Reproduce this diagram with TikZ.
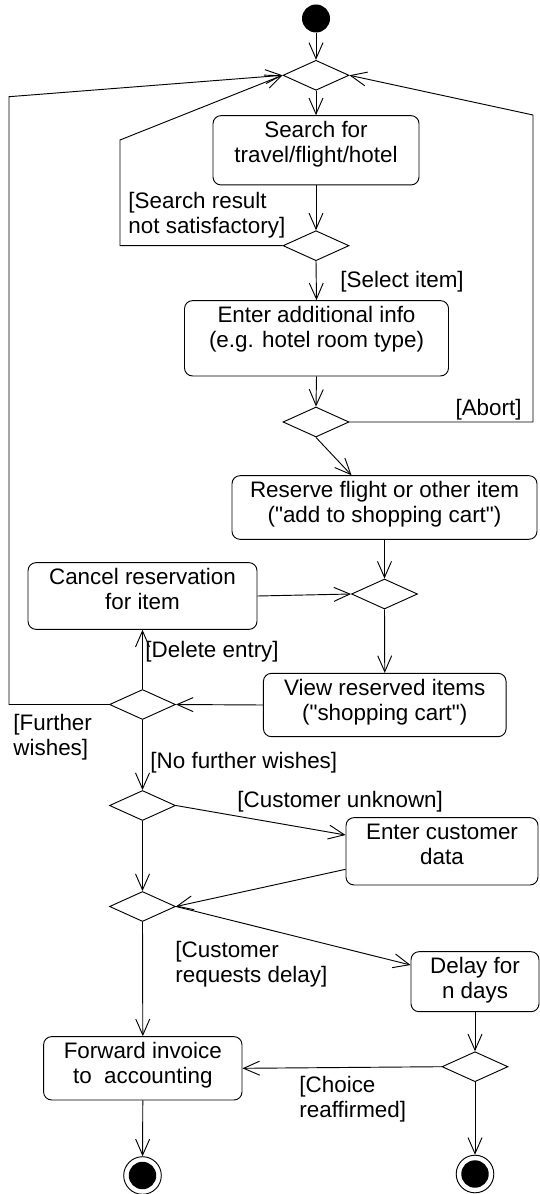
\documentclass[tikz,border=0pt]{standalone}
\usepackage{fontspec}
\setmainfont{Liberation Sans}
\usetikzlibrary{shapes.geometric,arrows.meta,calc}
\begin{document}
\begin{tikzpicture}[x=0.75pt,y=-0.75pt,
  font=\fontsize{16.8pt}{18.75pt}\selectfont,
  line width=0.7pt,
  act/.style={draw, rounded corners=6pt, align=center, inner sep=0pt},
  dec/.style={draw, diamond, inner sep=0pt, minimum width=49.5pt, minimum height=22.5pt},
  startnode/.style={circle, fill=black, minimum size=21pt, inner sep=0pt},
  finalnode/.style={circle, draw, minimum size=28.2pt, inner sep=0pt,
    path picture={\fill[black] (path picture bounding box.center) circle (10.3pt);}},
  arr/.style={-{Straight Barb[length=12pt,width=10.5pt]}},
  lbl/.style={inner sep=0pt, align=left}]
\useasboundingbox (0,0) rectangle (539,1194);

% nodes
\node[startnode] (s) at (316,18.5) {};
\node[dec] (d1) at (316,75.3) {};
\node[act, minimum width=154.5pt, minimum height=52pt, text depth=12.5pt] (search) at (316,150.3) {Search for\\travel/flight/hotel};
\node[dec] (d2) at (316,245.7) {};
\node[act, minimum width=198pt, minimum height=56.5pt, text depth=17pt] (enter) at (316.5,338.3) {Enter additional info\\(e.g. hotel room type)};
\node[dec] (d3) at (316,422) {};
\node[act, minimum width=228.75pt, minimum height=47.7pt, text depth=8pt] (res) at (384.5,507.5) {Reserve flight or other item\\(\textquotedbl add to shopping cart\textquotedbl)};
\node[dec] (d4) at (384.5,594) {};
\node[act, minimum width=171.75pt, minimum height=50pt, text depth=11pt] (cancel) at (142.5,596) {Cancel reservation\\for item};
\node[act, minimum width=182pt, minimum height=47.5pt, text depth=8pt] (view) at (384.75,705) {View reserved items\\(\textquotedbl shopping cart\textquotedbl)};
\node[dec] (d5) at (142.5,704.5) {};
\node[dec] (d6) at (142.5,805.5) {};
\node[act, minimum width=144pt, minimum height=50.5pt, text depth=11pt] (cust) at (442,851.3) {Enter customer\\data};
\node[dec] (d7) at (142.5,906.5) {};
\node[act, minimum width=96pt, minimum height=45pt, text depth=5pt] (delay) at (475,981.7) {Delay for\\n days};
\node[dec] (d8) at (475,1066.7) {};
\node[act, minimum width=148.8pt, minimum height=47.5pt, text depth=8pt] (fwd) at (142.8,1068.3) {Forward invoice\\to~~accounting};
\node[finalnode] (e1) at (142.5,1175.5) {};
\node[finalnode] (e2) at (475,1174) {};

% bend points
\coordinate (lp1) at (120,140);
\coordinate (lp2) at (9,96.7);
\coordinate (rp) at (533,115);

% connectors
\draw[arr] (s) -- (d1.north);
\draw[arr] (d1.south) -- (search.north);
\draw[arr] (search.south) -- (d2.north);
\draw[arr] (d2.south) -- (enter.north);
\draw[arr] (d2.west) -| (lp1) -- (d1.west);
\draw[arr] (enter.south) -- (d3.north);
\draw[arr] (d3.east) -| (rp) -- (d1.east);
\draw[arr] (d3.south) -- ($(res.north west)+(120,0)$);
\draw[arr] (res.south) -- (d4.north);
\draw[arr] (cancel.east) -- (d4.west);
\draw[arr] (d4.south) -- (view.north);
\draw[arr] (view.west) -- (d5.east);
\draw[arr] (d5.north) -- (cancel.south);
\draw[arr] (d5.west) -| (lp2) -- (d1.west);
\draw[arr] (d5.south) -- (d6.north);
\draw[arr] (d6.east) -- ($(cust.west)+(0,-16.3)$);
\draw[arr] (d6.south) -- (d7.north);
\draw[arr] ($(cust.west)+(0,18)$) -- (d7.east);
\draw[arr] (d7.east) -- ($(delay.west)+(0,-16.7)$);
\draw[arr] (d7.south) -- (fwd.north);
\draw[arr] (delay.south) -- (d8.north);
\draw[arr] (d8.west) -- (fwd.east);
\draw[arr] (fwd.south) -- (e1);
\draw[arr] (d8.south) -- (e2);

% guard labels
\node[lbl, anchor=west] (l1) at (128,215.5) {[Search result\\not satisfactory]};
\node[lbl, anchor=west] (l2) at (340,281.7) {[Select item]};
\node[lbl, anchor=east] (l3) at (522,410) {[Abort]};
\node[lbl, anchor=west] (l4) at (145,651.7) {[Delete entry]};
\node[lbl, anchor=west] (l5) at (13,737.5) {[Further\\wishes]};
\node[lbl, anchor=west] (l6) at (150,762.7) {[No further wishes]};
\node[lbl, anchor=west] (l7) at (237,801.7) {[Customer unknown]};
\node[lbl, anchor=west] (l8) at (175,964.2) {[Customer\\requests delay]};
\node[lbl, anchor=west] (l9) at (299,1099.2) {[Choice\\reaffirmed]};
\end{tikzpicture}
\end{document}
